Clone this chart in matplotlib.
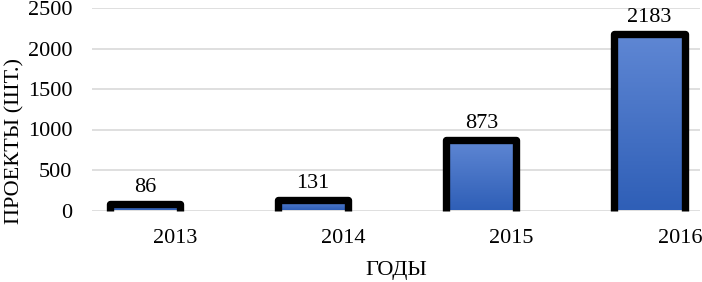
import numpy as np
import matplotlib.pyplot as plt
from matplotlib.patches import Rectangle
from matplotlib.colors import LinearSegmentedColormap

years = ["2013", "2014", "2015", "2016"]
projects = [86, 131, 873, 2183]

plt.rcParams['font.family'] = ['Liberation Serif', 'DejaVu Serif']

fig = plt.figure(figsize=(7.02, 2.82), dpi=100)
ax = fig.add_axes([92 / 702, 71.5 / 282, 608 / 702, 202.5 / 282])

xs = np.arange(len(years))
width = 0.417
cmap = LinearSegmentedColormap.from_list("blu", ["#2f5fb7", "#5f87d4"])
grad = np.linspace(0, 1, 100).reshape(-1, 1)

for x, v in zip(xs, projects):
    x0, x1 = x - width / 2, x + width / 2
    rect = Rectangle((x0, 0), width, v, facecolor="none", edgecolor="none")
    ax.add_patch(rect)
    im = ax.imshow(grad, cmap=cmap, origin="lower", extent=[x0, x1, 0, v],
                   aspect="auto", zorder=2)
    im.set_clip_path(rect)
    # black outline on the top and sides only
    ax.plot([x0, x0, x1, x1], [0, v, v, 0], color="black", lw=5.3,
            solid_joinstyle="round", solid_capstyle="butt", zorder=3, clip_on=False)
    ax.annotate(str(v), (x, v), xytext=(0, 5), textcoords="offset points",
                ha="center", va="bottom", fontsize=16)

ax.set_xlim(-0.3155, 3.30)
ax.set_ylim(0, 2500)
ax.set_yticks(range(0, 2501, 500))
ax.set_xticks(xs + 0.18)
ax.set_xticklabels(years)
ax.tick_params(axis="both", length=0, labelsize=16)
ax.tick_params(axis="y", pad=14)
ax.tick_params(axis="x", pad=13.5)
ax.grid(axis="y", color="#d9d9d9", lw=1.2, zorder=0)
ax.set_axisbelow(True)
for s in ax.spines.values():
    s.set_visible(False)

ax.set_xlabel("ГОДЫ", fontsize=16, labelpad=9.5)
fig.text(15 / 702, 0.5, "ПРОЕКТЫ (ШТ.)", rotation=90, fontsize=16,
         ha="center", va="center")

fig.savefig("out.png", dpi=100)
